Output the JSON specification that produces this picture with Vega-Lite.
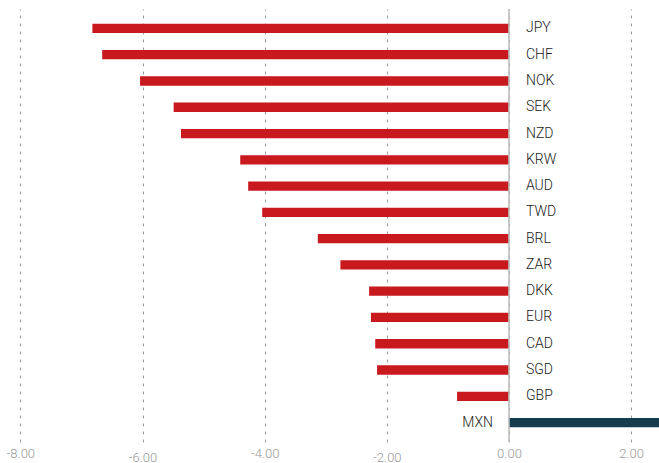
{
  "$schema": "https://vega.github.io/schema/vega-lite/v6.json",
  "width": 659,
  "height": 433,
  "padding": {"left": 0, "right": 0, "top": 9, "bottom": 21},
  "autosize": {"type": "none"},
  "background": "white",
  "config": {"view": {"stroke": null}, "font": "Roboto"},
  "data": {
    "values": [
      {"currency": "JPY", "value": -6.82},
      {"currency": "CHF", "value": -6.66},
      {"currency": "NOK", "value": -6.04},
      {"currency": "SEK", "value": -5.49},
      {"currency": "NZD", "value": -5.37},
      {"currency": "KRW", "value": -4.40},
      {"currency": "AUD", "value": -4.27},
      {"currency": "TWD", "value": -4.04},
      {"currency": "BRL", "value": -3.13},
      {"currency": "ZAR", "value": -2.76},
      {"currency": "DKK", "value": -2.29},
      {"currency": "EUR", "value": -2.26},
      {"currency": "CAD", "value": -2.19},
      {"currency": "SGD", "value": -2.16},
      {"currency": "GBP", "value": -0.85},
      {"currency": "MXN", "value": 2.6}
    ]
  },
  "layer": [
    {
      "mark": {"type": "bar", "clip": true},
      "encoding": {
        "y": {"field": "currency", "type": "nominal", "sort": null, "axis": null, "scale": {"paddingInner": 0.646, "paddingOuter": 0.563}},
        "x": {
          "field": "value",
          "type": "quantitative",
          "scale": {"domain": [-8.333, 2.456], "nice": false, "zero": false},
          "axis": {
            "title": null,
            "values": [-8, -6, -4, -2, 0, 2],
            "labelExpr": "replace(format(datum.value, '.2f'), '−', '-')",
            "domain": false,
            "ticks": false,
            "grid": true,
            "gridDash": [3, 5],
            "gridColor": "#9a9a9a",
            "gridWidth": 1,
            "labelColor": "#9a9a9a",
            "labelFontSize": 13,
            "labelFontWeight": 300,
            "labelFont": "Roboto",
            "labelPadding": {"condition": {"test": "datum.value == -6 || datum.value == -2", "value": 9}, "value": 5}
          }
        },
        "color": {"condition": {"test": "datum.value > 0", "value": "#143D4E"}, "value": "#C8191F"}
      }
    },
    {
      "data": {"values": [{"zero": 0}]},
      "mark": {"type": "rule", "color": "#bdbdbd", "strokeWidth": 1.6},
      "encoding": {"x": {"field": "zero", "type": "quantitative"}}
    },
    {
      "transform": [{"filter": "datum.value < 0"}],
      "mark": {"type": "text", "align": "left", "baseline": "middle", "dx": 17, "fontSize": 14, "fontWeight": 300, "color": "#1a1a1a"},
      "encoding": {
        "y": {"field": "currency", "type": "nominal", "sort": null},
        "x": {"datum": 0},
        "text": {"field": "currency"}
      }
    },
    {
      "transform": [{"filter": "datum.value >= 0"}],
      "mark": {"type": "text", "align": "right", "baseline": "middle", "dx": -16, "fontSize": 14, "fontWeight": 300, "color": "#1a1a1a"},
      "encoding": {
        "y": {"field": "currency", "type": "nominal", "sort": null},
        "x": {"datum": 0},
        "text": {"field": "currency"}
      }
    }
  ]
}
